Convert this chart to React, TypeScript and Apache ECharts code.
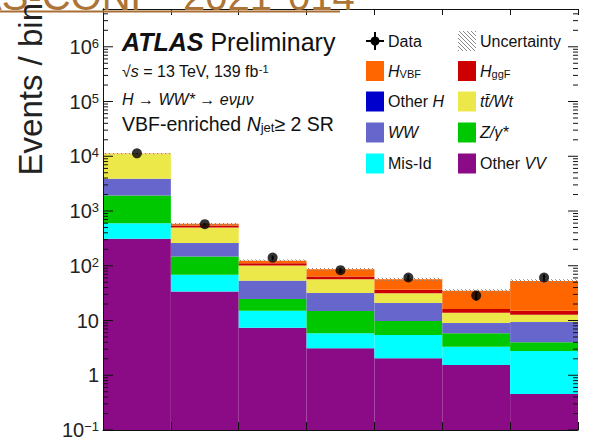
import React, { useEffect, useRef } from 'react';
import * as echarts from 'echarts';

// ---- data ----
const binIndex = [0, 1, 2, 3, 4, 5, 6];
const otherVV = [310, 33.7, 7.4, 3.1, 2.05, 1.54, 0.455];
const misId = [291, 34.5, 7.6, 2.74, 3.4, 1.79, 2.33];
const zGamma = [1319, 78.8, 9.8, 9.1, 4.38, 2.53, 1.23];
const ww = [1960, 112, 28.1, 16.6, 10.9, 3.07, 5.3];
const otherH = [8, 1.5, 0.5, 0.3, 0.2, 0.1, 0.1];
const ttWt = [7212, 238.5, 47.5, 25, 10.7, 4.87, 3.29];
const hggF = [60, 44, 10.7, 6.6, 4.7, 2.4, 2.3];
const hVBF = [40, 40, 12.4, 23.2, 20.6, 18.5, 37.9];
const dataObs = [11300, 575, 141, 83, 61, 28.5, 61];
const uncertaintyFrac = [0.03, 0.04, 0.05, 0.05, 0.06, 0.07, 0.07];
const yMin = 0.1;
const yMax = 4.9e6;

const FONT = '"Liberation Sans", Arial, Helvetica, sans-serif';

const components = [
  { name: 'Other VV', values: otherVV, color: '#8B0A86' },
  { name: 'Mis-Id', values: misId, color: '#00FFFF' },
  { name: 'Z/γ*', values: zGamma, color: '#00C800' },
  { name: 'WW', values: ww, color: '#6666CC' },
  { name: 'Other H', values: otherH, color: '#0000CC' },
  { name: 'tt/Wt', values: ttWt, color: '#ECE84A' },
  { name: 'H ggF', values: hggF, color: '#CC0000' },
  { name: 'H VBF', values: hVBF, color: '#FF6600' },
];

function makeHatch(): HTMLCanvasElement {
  const c = document.createElement('canvas');
  c.width = 4;
  c.height = 4;
  const ctx = c.getContext('2d')!;
  ctx.strokeStyle = '#8a8a8a';
  ctx.lineWidth = 1;
  ctx.beginPath();
  ctx.moveTo(-1, -1);
  ctx.lineTo(5, 5);
  ctx.moveTo(-1, 3);
  ctx.lineTo(1, 5);
  ctx.moveTo(3, -1);
  ctx.lineTo(5, 1);
  ctx.stroke();
  return c;
}

function buildOption() {
  const hatch = makeHatch();
  const cum = binIndex.map(() => yMin);
  const stackSeries: any[] = components.map((comp) => {
    const rows = binIndex.map((i) => {
      const lo = cum[i];
      const hi = (lo === yMin ? 0 : lo) + comp.values[i];
      cum[i] = hi;
      return [i, lo, hi];
    });
    return {
      type: 'custom',
      name: comp.name,
      data: rows,
      clip: true,
      renderItem: (params: any, api: any) => {
        const i = api.value(0);
        const p1 = api.coord([i, api.value(2)]);
        const p2 = api.coord([i + 1, api.value(1)]);
        return {
          type: 'rect',
          shape: { x: p1[0], y: p1[1], width: p2[0] - p1[0], height: p2[1] - p1[1] },
          style: { fill: comp.color },
        };
      },
    };
  });

  const totals = cum.slice();
  const uncRows = binIndex.map((i) => [i, totals[i] * (1 - uncertaintyFrac[i]), totals[i] * (1 + uncertaintyFrac[i])]);

  const tickRows: number[][] = [];
  for (let e = -1; e <= 6; e++) {
    for (let m = 1; m <= 9; m++) {
      const v = m * Math.pow(10, e);
      if (v >= yMin && v <= yMax) tickRows.push([0, v, m === 1 ? 1 : 0]);
    }
  }

  return {
    animation: false,
    grid: { left: 103, right: 13, top: 9, bottom: 18 },
    xAxis: [
      {
        type: 'value', min: 0, max: 7, interval: 1, position: 'bottom', z: 10,
        axisLine: { show: true, lineStyle: { color: '#111', width: 1 } },
        axisTick: { show: true, inside: true, length: 8, lineStyle: { color: '#111' } },
        axisLabel: { show: false }, splitLine: { show: false },
      },
      {
        type: 'value', min: 0, max: 7, interval: 1, position: 'top', z: 10,
        axisLine: { show: true, lineStyle: { color: '#111', width: 1 } },
        axisTick: { show: true, inside: true, length: 6, lineStyle: { color: '#111' } },
        axisLabel: { show: false }, splitLine: { show: false },
      },
    ],
    yAxis: [
      {
        type: 'log', min: yMin, max: yMax, splitNumber: 8, position: 'left', z: 10,
        axisLine: { show: true, lineStyle: { color: '#111', width: 1 } },
        axisTick: { show: false }, splitLine: { show: false },
        axisLabel: {
          margin: 4,
          showMaxLabel: false,
          formatter: (v: number) => {
            const lg = Math.log10(v);
            const e = Math.round(lg);
            if (Math.abs(lg - e) > 1e-6) return '';
            if (e === 0) return '{b|1}';
            if (e === 1) return '{b|10}';
            return '{b|10}{s|' + (e < 0 ? '−' + -e : String(e)) + '}';
          },
          rich: {
            b: { fontSize: 20, fontFamily: FONT, color: '#222' },
            s: { fontSize: 13, fontFamily: FONT, color: '#222', verticalAlign: 'top' },
          },
        },
      },
      {
        type: 'log', min: yMin, max: yMax, position: 'right', z: 10,
        axisLine: { show: true, lineStyle: { color: '#111', width: 1 } },
        axisTick: { show: false }, axisLabel: { show: false }, splitLine: { show: false },
      },
    ],
    series: [
      ...stackSeries,
      {
        type: 'custom',
        name: 'Uncertainty',
        data: uncRows,
        clip: true,
        renderItem: (params: any, api: any) => {
          const i = api.value(0);
          const p1 = api.coord([i, api.value(2)]);
          const p2 = api.coord([i + 1, api.value(1)]);
          return {
            type: 'rect',
            shape: { x: p1[0], y: p1[1], width: p2[0] - p1[0], height: p2[1] - p1[1] },
            style: { fill: { image: hatch, repeat: 'repeat' } as any },
          };
        },
        z: 3,
      },
      {
        type: 'custom',
        name: 'ticks',
        data: tickRows,
        silent: true,
        z: 11,
        renderItem: (params: any, api: any) => {
          const v = api.value(1);
          const major = api.value(2) === 1;
          const pl = api.coord([0, v]);
          const pr = api.coord([7, v]);
          const len = major ? 10 : 5;
          return {
            type: 'group',
            children: [
              { type: 'line', shape: { x1: pl[0], y1: pl[1], x2: pl[0] + len, y2: pl[1] }, style: { stroke: '#111', lineWidth: 1 } },
              { type: 'line', shape: { x1: pr[0] - len, y1: pr[1], x2: pr[0], y2: pr[1] }, style: { stroke: '#111', lineWidth: 1 } },
            ],
          };
        },
      },
      {
        type: 'custom',
        name: 'Data errors',
        data: binIndex.map((i) => [i + 0.5, dataObs[i] - Math.sqrt(dataObs[i]), dataObs[i] + Math.sqrt(dataObs[i])]),
        z: 12,
        renderItem: (params: any, api: any) => {
          const a = api.coord([api.value(0), api.value(1)]);
          const b = api.coord([api.value(0), api.value(2)]);
          return { type: 'line', shape: { x1: a[0], y1: a[1], x2: b[0], y2: b[1] }, style: { stroke: '#000', lineWidth: 2 } };
        },
      },
      {
        type: 'scatter',
        name: 'Data',
        data: binIndex.map((i) => [i + 0.5, dataObs[i]]),
        symbol: 'circle',
        symbolSize: 10,
        itemStyle: { color: '#000' },
        z: 13,
      },
    ],
    graphic: buildGraphic(hatch),
  };
}

function txt(x: number, y: number, text: string, fontSize: number, extra: any = {}, rich: any = undefined) {
  return {
    type: 'text',
    x,
    y,
    z: 100,
    style: {
      text,
      fontSize,
      fontFamily: FONT,
      fill: '#111',
      align: 'left',
      verticalAlign: 'middle',
      rich,
      ...extra,
    },
  };
}

function buildGraphic(hatch: HTMLCanvasElement) {
  const ital = (fs: number) => ({ fontSize: fs, fontFamily: FONT, fontStyle: 'italic', fill: '#111' });
  const norm = (fs: number) => ({ fontSize: fs, fontFamily: FONT, fill: '#111' });
  const els: any[] = [];
  // top link text (cut off by the page edge, as in the reference)
  const brown = '#AD7438';
  els.push(txt(155, -4, 'ATLAS-CONF', 40, { fill: brown, align: 'right' }));
  els.push(txt(183, -4, '2021', 40, { fill: brown }));
  els.push(txt(288, -4, '014', 40, { fill: brown }));
  els.push({ type: 'line', z: 100, shape: { x1: 0, y1: 11.5, x2: 340, y2: 11.5 }, style: { stroke: '#A86F35', lineWidth: 2 } });

  // y title
  els.push({
    type: 'text', x: 30, y: 3, rotation: Math.PI / 2, z: 100,
    style: { text: 'Events / bin', fontSize: 33, fontFamily: FONT, fill: '#222', align: 'right', verticalAlign: 'middle' },
  });

  // ATLAS label
  els.push(txt(122, 42, '{a|ATLAS} {p|Preliminary}', 25, {}, {
    a: { fontSize: 25, fontFamily: FONT, fontWeight: 'bold', fontStyle: 'italic', fill: '#111' },
    p: norm(25),
  }));
  els.push(txt(122, 71, '√{i|s} = 13 TeV, 139 fb{sup|-1}', 16, {}, {
    i: ital(16),
    sup: { fontSize: 11, fontFamily: FONT, fill: '#111', verticalAlign: 'top' },
  }));
  els.push(txt(122, 99, '{i|H} → {i|WW*} → {i|eνμν}', 16, {}, { i: ital(16) }));
  els.push(txt(122, 124, 'VBF-enriched {i|N}{sub|jet}≥ 2 SR', 19.5, {}, {
    i: ital(19.5),
    sub: { fontSize: 13, fontFamily: FONT, fill: '#111', verticalAlign: 'bottom', padding: [7, 0, 0, 0] },
  }));

  // legend
  const rowY = [41, 71, 101.5, 132.5, 163.5];
  const c1Box = 366, c2Box = 458, boxW = 18, boxH = 20;
  const c1Txt = 388, c2Txt = 480;
  // Data marker
  els.push({ type: 'line', z: 100, shape: { x1: c1Box, y1: rowY[0], x2: c1Box + boxW, y2: rowY[0] }, style: { stroke: '#000', lineWidth: 2 } });
  els.push({ type: 'line', z: 100, shape: { x1: c1Box + boxW / 2, y1: rowY[0] - 9, x2: c1Box + boxW / 2, y2: rowY[0] + 9 }, style: { stroke: '#000', lineWidth: 2 } });
  els.push({ type: 'circle', z: 101, shape: { cx: c1Box + boxW / 2, cy: rowY[0], r: 4.5 }, style: { fill: '#000' } });
  els.push(txt(c1Txt, rowY[0], 'Data', 16));
  // Uncertainty
  els.push({ type: 'rect', z: 100, shape: { x: c2Box, y: rowY[0] - 10, width: boxW, height: boxH }, style: { fill: { image: hatch, repeat: 'repeat' } } });
  els.push(txt(c2Txt, rowY[0], 'Uncertainty', 16));

  const sub = { fontSize: 11, fontFamily: FONT, fill: '#111', verticalAlign: 'bottom', padding: [6, 0, 0, 0] };
  const entries = [
    { col: 0, row: 1, color: '#FF6600', text: '{i|H}{sub|VBF}' },
    { col: 1, row: 1, color: '#CC0000', text: '{i|H}{sub|ggF}' },
    { col: 0, row: 2, color: '#0000CC', text: 'Other {i|H}' },
    { col: 1, row: 2, color: '#ECE84A', text: '{i|tt̄/Wt}' },
    { col: 0, row: 3, color: '#6666CC', text: '{i|WW}' },
    { col: 1, row: 3, color: '#00C800', text: '{i|Z/γ*}' },
    { col: 0, row: 4, color: '#00FFFF', text: 'Mis-Id' },
    { col: 1, row: 4, color: '#8B0A86', text: 'Other {i|VV}' },
  ];
  entries.forEach((en) => {
    const bx = en.col === 0 ? c1Box : c2Box;
    const tx = en.col === 0 ? c1Txt : c2Txt;
    const y = rowY[en.row];
    els.push({ type: 'rect', z: 100, shape: { x: bx, y: y - boxH / 2, width: boxW, height: boxH }, style: { fill: en.color } });
    els.push(txt(tx, y, en.text, 16, {}, { i: ital(16), sub }));
  });
  return els;
}

export default function App() {
  const ref = useRef<HTMLDivElement>(null);
  useEffect(() => {
    if (!ref.current) return;
    const chart = echarts.init(ref.current, undefined, { renderer: 'svg' });
    chart.setOption(buildOption() as any);
    return () => chart.dispose();
  }, []);
  return (
    <div
      ref={ref}
      style={{ position: 'fixed', left: 0, top: 0, width: 591, height: 448, background: '#fff' }}
    />
  );
}
